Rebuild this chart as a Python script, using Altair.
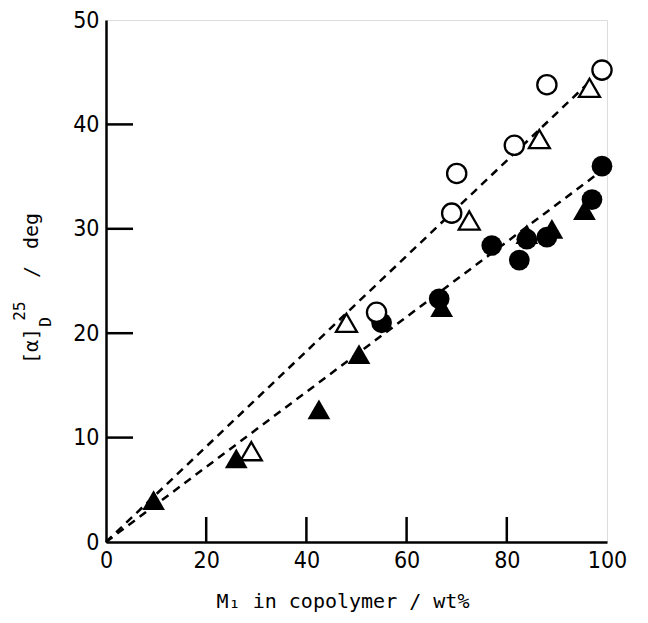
import altair as alt
import pandas as pd

# open circles
oc_x = [54, 69, 70, 81.5, 88, 99]
oc_y = [22, 31.5, 35.3, 38, 43.8, 45.2]
# open triangles
ot_x = [29, 48, 72.5, 86.5, 96.5]
ot_y = [8.7, 21, 30.8, 38.6, 43.5]
# filled circles
fc_x = [55, 66.5, 77, 82.5, 84, 88, 97, 99]
fc_y = [21, 23.3, 28.4, 27, 29, 29.2, 32.8, 36]
# filled triangles
ft_x = [9.5, 26, 42.5, 50.5, 67, 84, 89, 95.5]
ft_y = [4, 8, 12.7, 18, 22.5, 29.5, 30, 31.8]
# dashed guide lines
up_x = [0, 97]
up_y = [0, 44.3]
lo_x = [0, 98.5]
lo_y = [0, 35.4]

x_ticks = [0, 20, 40, 60, 80, 100]
y_ticks = [0, 10, 20, 30, 40, 50]
x_inner = [20, 40, 60, 80]
y_inner = [10, 20, 30, 40]

W, H = 501, 522
FONT = "DejaVu Sans Mono"
TFONT = "Liberation Sans Narrow, DejaVu Sans Condensed, Roboto Condensed, sans-serif"

xs = alt.Scale(domain=[0, 100], nice=False, zero=False)
ys = alt.Scale(domain=[0, 50], nice=False, zero=False)

xax = alt.Axis(values=x_ticks, ticks=False, grid=False, labelFont=TFONT, labelFontSize=23,
               labelColor="black", labelPadding=7, domainColor="black", domainWidth=2.5,
               title=None, labelFlush=False, labelOverlap=False)
yax = alt.Axis(values=y_ticks, ticks=False, grid=False, labelFont=TFONT, labelFontSize=23,
               labelColor="black", labelPadding=7, domainColor="black", domainWidth=2.5,
               title=None, labelFlush=False, labelOverlap=False)

def pts(xv, yv):
    return pd.DataFrame({"x": xv, "y": yv})

base_enc = dict(
    x=alt.X("x:Q", scale=xs, axis=xax),
    y=alt.Y("y:Q", scale=ys, axis=yax),
)

line_up = alt.Chart(pts(up_x, up_y)).mark_line(color="black", strokeWidth=2.5, strokeDash=[8, 6]).encode(**base_enc)
line_lo = alt.Chart(pts(lo_x, lo_y)).mark_line(color="black", strokeWidth=2.5, strokeDash=[8, 6]).encode(**base_enc)

ft = alt.Chart(pts(ft_x, ft_y)).mark_point(shape="triangle-up", filled=True, color="black", size=520, opacity=1).encode(**base_enc)
fc = alt.Chart(pts(fc_x, fc_y)).mark_point(shape="circle", filled=True, color="black", size=430, opacity=1).encode(**base_enc)
ot = alt.Chart(pts(ot_x, ot_y)).mark_point(shape="triangle-up", filled=True, fill="white", stroke="black", strokeWidth=2.3, size=440, opacity=1).encode(**base_enc)
oc = alt.Chart(pts(oc_x, oc_y)).mark_point(shape="circle", filled=True, fill="white", stroke="black", strokeWidth=2.3, size=370, opacity=1).encode(**base_enc)

ytk = alt.Chart(pd.DataFrame({"v": y_inner})).mark_rule(color="black", strokeWidth=2.5).encode(
    y=alt.Y("v:Q", scale=ys, axis=yax), x=alt.value(0), x2=alt.value(27))
xtk = alt.Chart(pd.DataFrame({"v": x_inner})).mark_rule(color="black", strokeWidth=2.5).encode(
    x=alt.X("v:Q", scale=xs, axis=xax), y=alt.value(H), y2=alt.value(H - 25))

def label(txt, px, py, size, angle=0):
    return alt.Chart(pd.DataFrame({"t": [txt]})).mark_text(
        font=FONT, fontSize=size, color="black", align="center", baseline="middle", angle=angle
    ).encode(text="t:N", x=alt.value(px), y=alt.value(py))

xtitle = label("M₁ in copolymer / wt%", 237, 582, 20)
yt1 = label("[α]", -74, 326, 20, 270)
yt2 = label("25", -86, 291, 16, 270)
yt3 = label("D", -60, 302, 16, 270)
yt4 = label("/", -74, 252, 20, 270)
yt5 = label("deg", -74, 211, 20, 270)

chart = alt.layer(
    line_up, line_lo, ytk, xtk, ft, fc, ot, oc, xtitle, yt1, yt2, yt3, yt4, yt5
).properties(
    width=W, height=H,
    autosize=alt.AutoSizeParams(type="none"),
    padding={"left": 98, "top": 12, "right": 33, "bottom": 73},
).configure_view(stroke="black", strokeWidth=2.5).configure(background="white")

chart.save("out.html", embed_options={"renderer": "svg", "actions": False})
